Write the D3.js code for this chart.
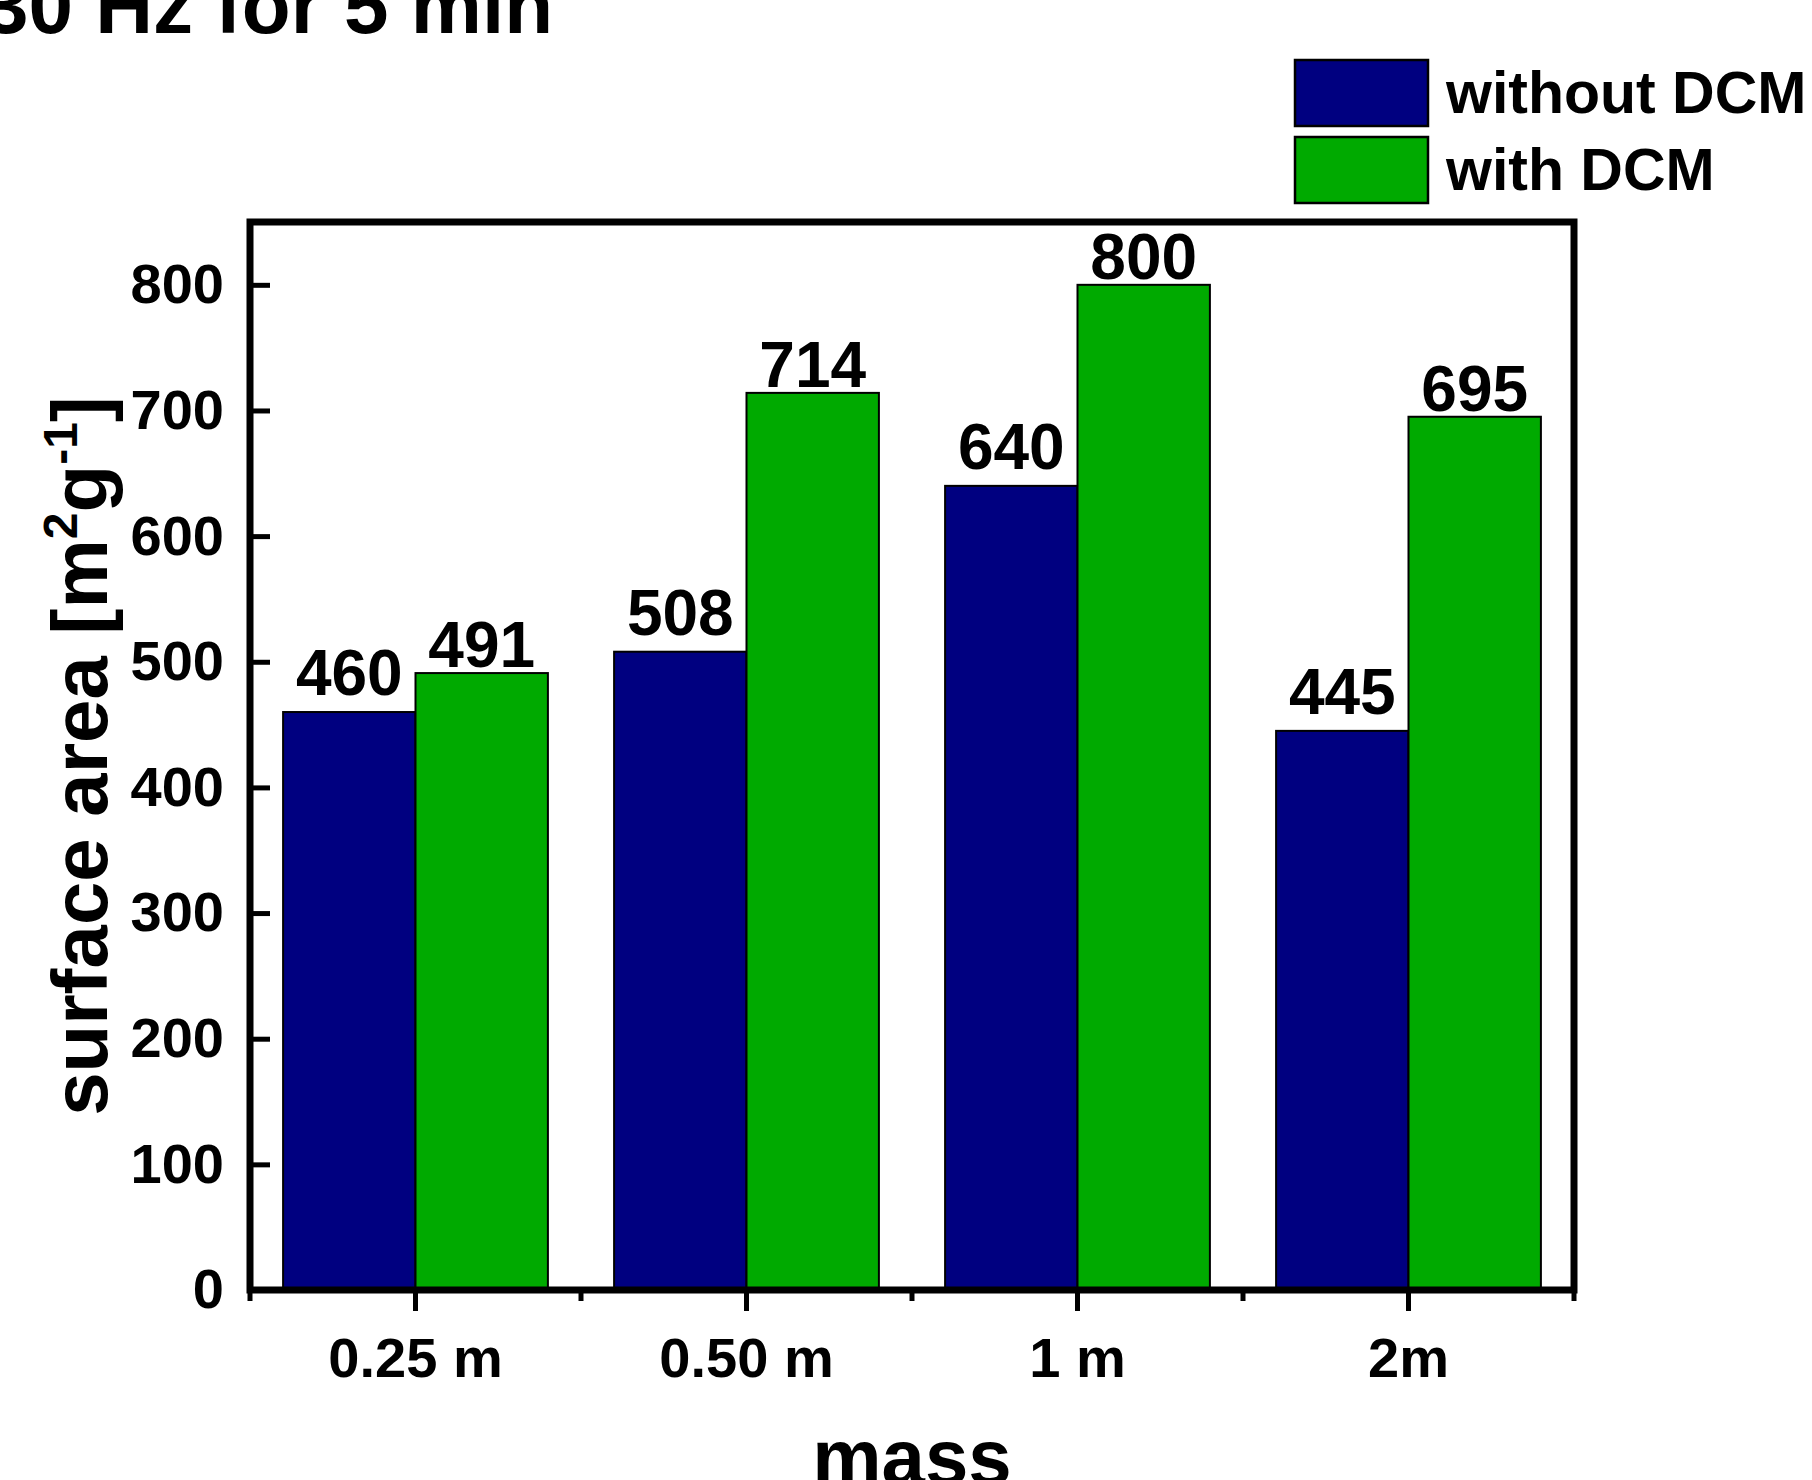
<!DOCTYPE html>
<html>
<head>
<meta charset="utf-8">
<script src="https://cdn.jsdelivr.net/npm/d3@7"></script>
<style>
  html, body { margin: 0; padding: 0; background: #fff; }
  svg { display: block; font-family: "Liberation Sans", Arial, sans-serif; font-weight: bold; }
</style>
</head>
<body>
<svg id="chart" width="1812" height="1480"></svg>
<script>
const categories = ["0.25 m", "0.50 m", "1 m", "2m"];
const seriesNames = ["without DCM", "with DCM"];
const withoutDCM = [460, 508, 640, 445];
const withDCM = [491, 714, 800, 695];
const yTickValues = [0, 100, 200, 300, 400, 500, 600, 700, 800];
const seriesColors = ["#000080", "#00aa00"];
const titleText = "30 Hz for 5 min";
const xTitle = "mass";

(function () {
const svg = d3.select("#chart");
const pL = 250, pR = 1574, pT = 222, pB = 1290;

const x = d3.scaleBand().domain(categories).range([pL, pR]).paddingInner(0.2).paddingOuter(0.1);
const xs = d3.scaleBand().domain(seriesNames).range([0, x.bandwidth()]);
const y = d3.scaleLinear().domain([0, 850]).range([pB, pT]);

const rows = categories.map((c, i) => ({ c, vals: [withoutDCM[i], withDCM[i]] }));

// bars
const g = svg.append("g");
rows.forEach(r => {
  r.vals.forEach((v, j) => {
    g.append("rect")
      .attr("x", x(r.c) + xs(seriesNames[j]))
      .attr("y", y(v))
      .attr("width", xs.bandwidth())
      .attr("height", y(0) - y(v))
      .attr("fill", seriesColors[j])
      .attr("stroke", "#000")
      .attr("stroke-width", 2);
    g.append("text")
      .attr("x", x(r.c) + xs(seriesNames[j]) + xs.bandwidth() / 2)
      .attr("y", y(v) - (j === 0 ? 17 : 6))
      .attr("text-anchor", "middle")
      .attr("font-size", 64)
      .text(v);
  });
});

// left axis (ticks inward)
const yAxis = d3.axisLeft(y).tickValues(yTickValues).tickSizeInner(-20).tickSizeOuter(0).tickPadding(26);
const ya = svg.append("g").attr("transform", `translate(${pL},0)`).call(yAxis);
ya.select(".domain").remove();
ya.selectAll(".tick line").attr("stroke", "#000").attr("stroke-width", 5);
ya.selectAll(".tick text").attr("font-size", 56).attr("fill", "#000")
  .attr("font-family", "Liberation Sans, Arial, sans-serif").attr("font-weight", "bold");

// bottom axis (ticks outward)
const xAxis = d3.axisBottom(x).tickSizeInner(21).tickSizeOuter(0).tickPadding(26);
const xa = svg.append("g").attr("transform", `translate(0,${pB})`).call(xAxis);
xa.select(".domain").remove();
xa.selectAll(".tick line").attr("stroke", "#000").attr("stroke-width", 5);
xa.selectAll(".tick text").attr("font-size", 56).attr("fill", "#000")
  .attr("font-family", "Liberation Sans, Arial, sans-serif").attr("font-weight", "bold");

// minor ticks at category boundaries
const bounds = d3.range(categories.length + 1).map(i => pL + i * x.step());
svg.append("g").selectAll("line").data(bounds).join("line")
  .attr("x1", d => d).attr("x2", d => d)
  .attr("y1", pB).attr("y2", pB + 11)
  .attr("stroke", "#000").attr("stroke-width", 5);

// frame
svg.append("rect")
  .attr("x", pL).attr("y", pT)
  .attr("width", pR - pL).attr("height", pB - pT)
  .attr("fill", "none").attr("stroke", "#000").attr("stroke-width", 7);

// y title with superscripts
const yt = svg.append("text")
  .attr("transform", `translate(107,${(pT + pB) / 2}) rotate(-90)`)
  .attr("text-anchor", "middle")
  .attr("font-size", 78);
yt.append("tspan").text("surface area [m");
yt.append("tspan").attr("font-size", 48).attr("dy", -30).text("2");
yt.append("tspan").attr("dy", 30).text("g");
yt.append("tspan").attr("font-size", 48).attr("dy", -30).text("-1");
yt.append("tspan").attr("dy", 30).text("]");

// x title
svg.append("text")
  .attr("x", (pL + pR) / 2)
  .attr("y", 1484)
  .attr("text-anchor", "middle")
  .attr("font-size", 78)
  .text(xTitle);

// title
svg.append("text")
  .attr("x", -16)
  .attr("y", 33)
  .attr("font-size", 80)
  .text(titleText);

// legend
const lg = svg.append("g");
seriesNames.forEach((s, i) => {
  lg.append("rect")
    .attr("x", 1295).attr("y", 60 + i * 77)
    .attr("width", 133).attr("height", 66)
    .attr("fill", seriesColors[i])
    .attr("stroke", "#000").attr("stroke-width", 2.5);
  lg.append("text")
    .attr("x", 1446).attr("y", 113 + i * 77)
    .attr("font-size", 59)
    .text(s);
});
})();
</script>
</body>
</html>
